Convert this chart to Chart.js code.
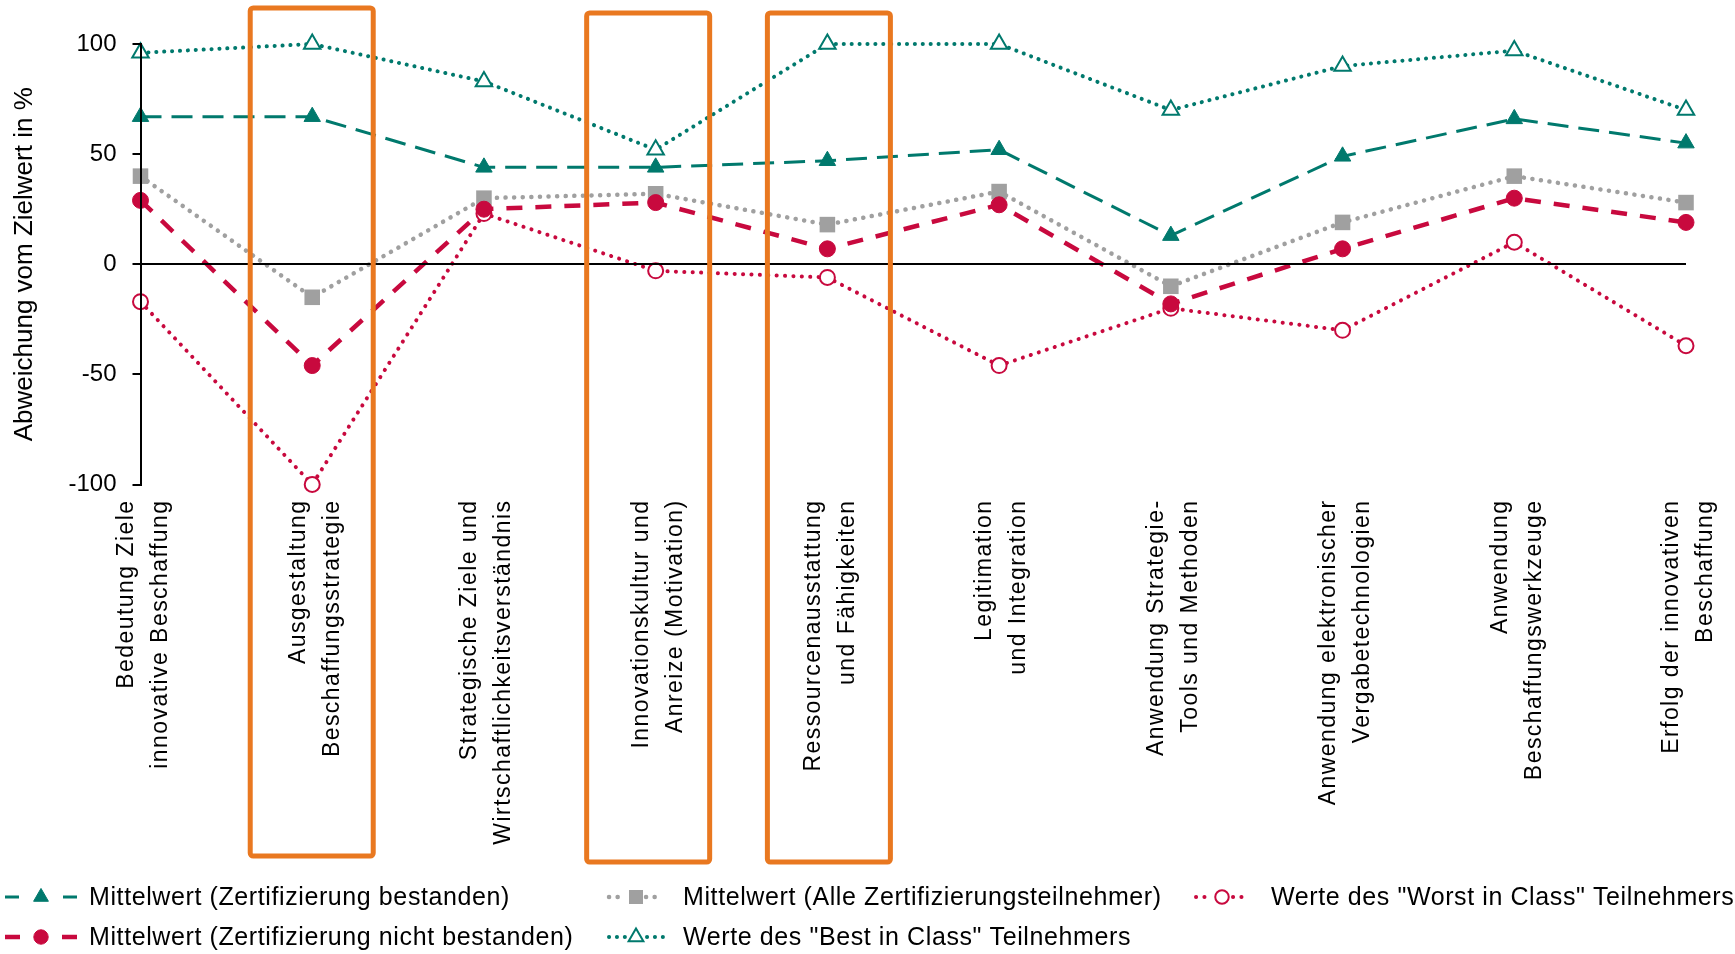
<!DOCTYPE html>
<html>
<head>
<meta charset="utf-8">
<script src="https://cdn.jsdelivr.net/npm/chart.js@4.4.1/dist/chart.umd.min.js"></script>
<style>
  html, body { margin: 0; padding: 0; background: #fff; }
  #wrap { width: 1735px; height: 954px; }
</style>
</head>
<body>
<div id="wrap"><canvas id="abweichung"></canvas></div>
<script>
// Kategorien (zweizeilig) und Werte je Reihe, Abweichung vom Zielwert in %
var kategorien = [
  ['Bedeutung Ziele', 'innovative Beschaffung'],
  ['Ausgestaltung', 'Beschaffungsstrategie'],
  ['Strategische Ziele und', 'Wirtschaftlichkeitsverständnis'],
  ['Innovationskultur und', 'Anreize (Motivation)'],
  ['Ressourcenausstattung', 'und Fähigkeiten'],
  ['Legitimation', 'und Integration'],
  ['Anwendung Strategie-', 'Tools und Methoden'],
  ['Anwendung elektronischer', 'Vergabetechnologien'],
  ['Anwendung', 'Beschaffungswerkzeuge'],
  ['Erfolg der innovativen', 'Beschaffung']
];
var bestanden      = [67, 67, 44, 44, 47, 52, 13, 49, 66, 55];
var nichtBestanden = [29, -46, 25, 28, 7, 27, -18, 7, 30, 19];
var alleTeilnehmer = [40, -15, 30, 32, 18, 33, -10, 19, 40, 28];
var bestInClass    = [96, 100, 83, 52, 100, 100, 70, 90, 97, 70];
var worstInClass   = [-17, -100, 23, -3, -6, -46, -20, -30, 10, -37];
var yMin = -100, yMax = 100, yStep = 50;

var TEAL = '#00796d';
var ROT = '#c8093e';
var GRAU = '#a0a0a0';
var ORANGE = '#e97820';
var FONT = "'Liberation Sans', Arial, sans-serif";

var ctx = document.getElementById('abweichung').getContext('2d');

// Legende: Spalten wie im Excel-Layout
var legendePos = [
  { ds: 0, cx: 41,   half: 36, tx: 89,   y: 897 },
  { ds: 1, cx: 41,   half: 36, tx: 89,   y: 937 },
  { ds: 2, cx: 636,  half: 27, tx: 683,  y: 897 },
  { ds: 3, cx: 636,  half: 27, tx: 683,  y: 937 },
  { ds: 4, cx: 1222, half: 26, tx: 1271, y: 897 }
];

// orange Markierungsrahmen um einzelne Kategorien
var rahmen = [
  { kat: 1, l: -62, r: 61, top: 8,  bottom: 856 },
  { kat: 3, l: -69, r: 54, top: 13, bottom: 862 },
  { kat: 4, l: -60, r: 63, top: 13, bottom: 862 }
];

var labelSpacing = {
  id: 'labelSpacing',
  beforeDraw: function (chart) { chart.ctx.letterSpacing = '1.45px'; },
  beforeDatasetsDraw: function (chart) { chart.ctx.letterSpacing = '0px'; }
};

var legende = {
  id: 'legende',
  afterDraw: function (chart) {
    var c = chart.ctx;
    legendePos.forEach(function (p) {
      var ds = chart.data.datasets[p.ds];
      c.save();
      c.strokeStyle = ds.borderColor;
      c.lineWidth = ds.borderWidth;
      c.lineCap = ds.borderCapStyle || 'butt';
      c.setLineDash(ds.borderDash || []);
      var gap = ds.legendGap;
      c.beginPath();
      c.moveTo(p.cx - p.half, p.y); c.lineTo(p.cx - gap, p.y);
      c.moveTo(p.cx + gap, p.y);    c.lineTo(p.cx + p.half, p.y);
      c.stroke();
      c.setLineDash([]);
      c.fillStyle = ds.pointBackgroundColor;
      c.strokeStyle = ds.pointBorderColor;
      c.lineWidth = ds.pointBorderWidth;
      Chart.helpers.drawPoint(c, {
        pointStyle: ds.pointStyle, radius: ds.pointRadius * 0.9,
        rotation: 0, borderWidth: ds.pointBorderWidth
      }, p.cx, p.y);
      c.fillStyle = '#000';
      c.font = '25px ' + FONT;
      c.letterSpacing = '0.6px';
      c.textBaseline = 'middle';
      c.fillText(ds.label, p.tx, p.y + 1);
      c.restore();
    });
  }
};

var markierung = {
  id: 'markierung',
  afterDraw: function (chart) {
    var c = chart.ctx, x = chart.scales.x;
    c.save();
    c.strokeStyle = ORANGE;
    c.lineWidth = 5;
    rahmen.forEach(function (b) {
      var px = x.getPixelForValue(b.kat);
      c.beginPath();
      c.roundRect(px + b.l, b.top, b.r - b.l, b.bottom - b.top, 3);
      c.stroke();
    });
    c.restore();
  }
};

var chart = new Chart(ctx, {
  type: 'line',
  data: {
    labels: kategorien,
    datasets: [
      {
        label: 'Mittelwert (Zertifizierung bestanden)',
        data: bestanden,
        borderColor: TEAL, borderWidth: 3, borderDash: [21, 10],
        pointStyle: 'triangle', pointRadius: 9.5,
        pointBackgroundColor: TEAL, pointBorderColor: TEAL, pointBorderWidth: 1,
        legendGap: 22
      },
      {
        label: 'Mittelwert (Zertifizierung nicht bestanden)',
        data: nichtBestanden,
        borderColor: ROT, borderWidth: 4.5, borderDash: [16, 13],
        pointStyle: 'circle', pointRadius: 8,
        pointBackgroundColor: ROT, pointBorderColor: ROT, pointBorderWidth: 1,
        legendGap: 21
      },
      {
        label: 'Mittelwert (Alle Zertifizierungsteilnehmer)',
        data: alleTeilnehmer,
        borderColor: GRAU, borderWidth: 4.5, borderDash: [0.1, 8.5], borderCapStyle: 'round',
        pointStyle: 'rect', pointRadius: 11,
        pointBackgroundColor: GRAU, pointBorderColor: GRAU, pointBorderWidth: 0,
        legendGap: 10
      },
      {
        label: 'Werte des "Best in Class" Teilnehmers',
        data: bestInClass,
        borderColor: TEAL, borderWidth: 4, borderDash: [0.1, 7.8], borderCapStyle: 'round',
        pointStyle: 'triangle', pointRadius: 9.5,
        pointBackgroundColor: '#fff', pointBorderColor: TEAL, pointBorderWidth: 2,
        legendGap: 11
      },
      {
        label: 'Werte des "Worst in Class" Teilnehmers',
        data: worstInClass,
        borderColor: ROT, borderWidth: 4, borderDash: [0.1, 8.3], borderCapStyle: 'round',
        pointStyle: 'circle', pointRadius: 7.5,
        pointBackgroundColor: '#fff', pointBorderColor: ROT, pointBorderWidth: 2,
        legendGap: 11
      }
    ]
  },
  options: {
    responsive: true,
    maintainAspectRatio: false,
    animation: false,
    clip: false,
    layout: { padding: { left: 0, right: 49, top: 44, bottom: 0 } },
    elements: { line: { tension: 0, fill: false } },
    plugins: {
      legend: { display: false },
      tooltip: { enabled: false }
    },
    scales: {
      x: {
        offset: false,
        grid: { display: false },
        border: { display: false },
        ticks: {
          autoSkip: false, maxRotation: 90, minRotation: 90,
          padding: 7, labelOffset: -14, color: '#000',
          font: { family: FONT, size: 23, lineHeight: 1.48 }
        },
        afterFit: function (s) {
          s.height = 954 - 484.5;
          s.paddingLeft = 0;
          s.paddingRight = 0;
        }
      },
      y: {
        min: yMin, max: yMax,
        border: { display: true, color: '#000', width: 2, z: 1 },
        grid: {
          z: 1,
          drawTicks: true, tickLength: 8, lineWidth: 2,
          tickColor: '#000',
          color: function (c) { return c.tick && c.tick.value === 0 ? '#000' : 'rgba(0,0,0,0)'; }
        },
        ticks: {
          z: 1, stepSize: yStep, padding: 16, color: '#000',
          font: { family: FONT, size: 24 }
        },
        title: {
          display: true, text: 'Abweichung vom Zielwert in %', color: '#000',
          padding: { top: 9, bottom: 0 },
          font: { family: FONT, size: 26, lineHeight: 1.2 }
        },
        afterFit: function (s) {
          s.width = 140.5;
          s.paddingTop = 0;
          s.paddingBottom = 0;
        }
      }
    }
  },
  plugins: [labelSpacing, legende, markierung]
});
</script>
</body>
</html>
